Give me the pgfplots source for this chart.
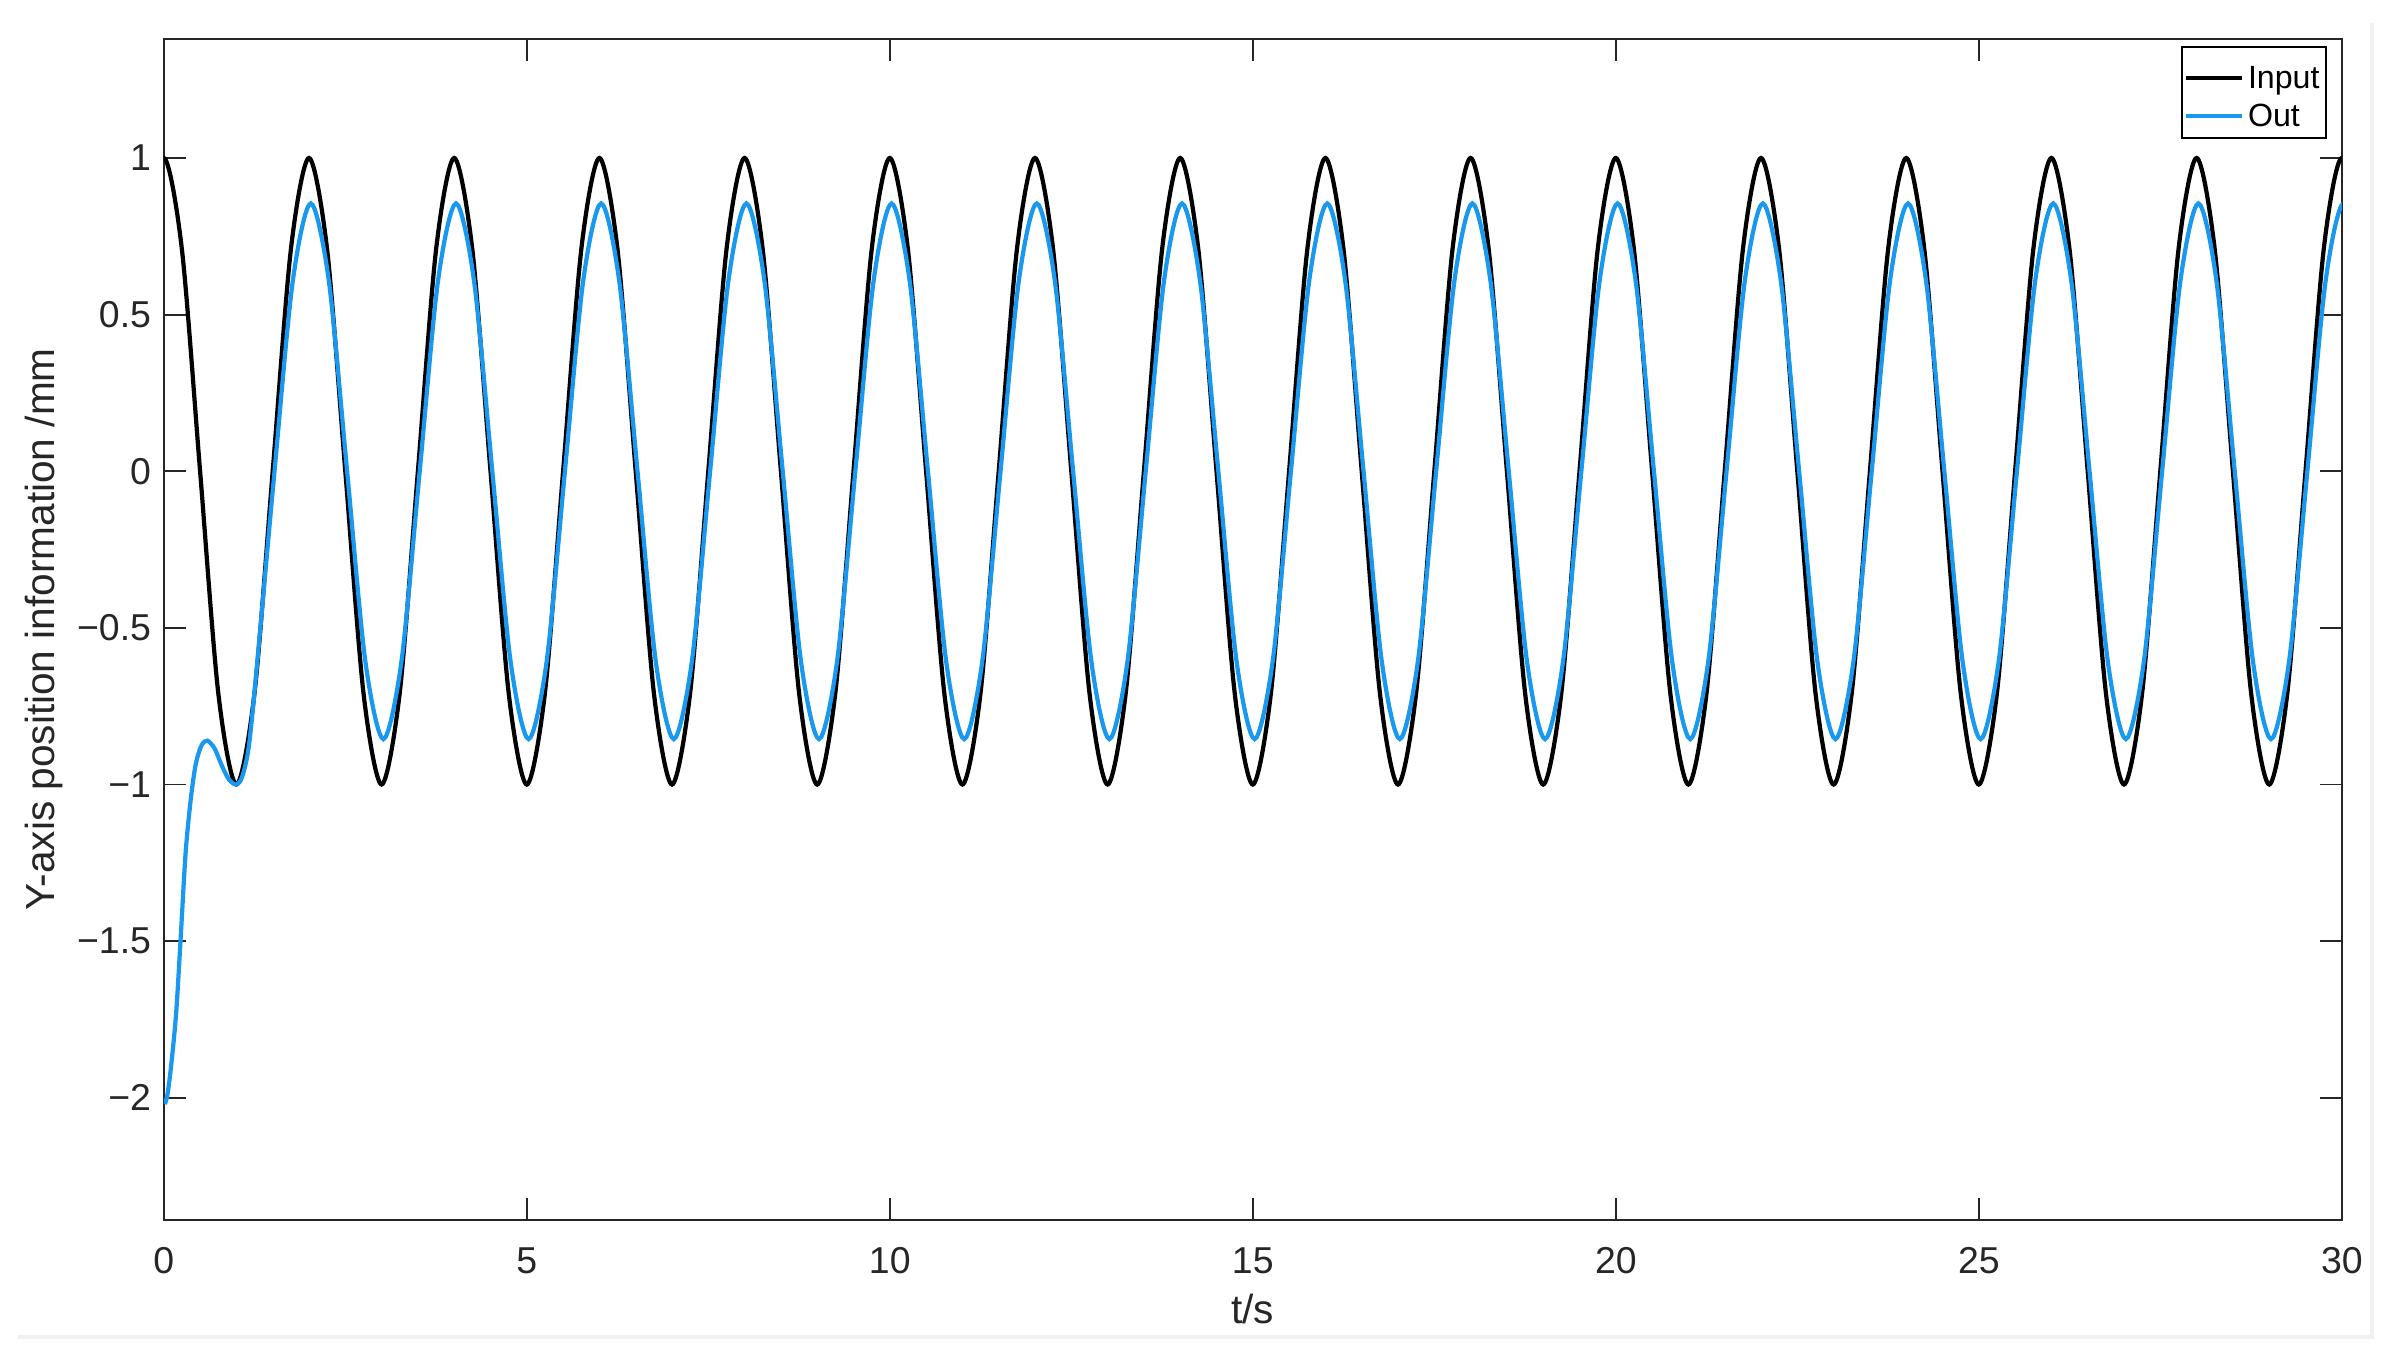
\documentclass[border=0pt]{standalone}
\usepackage{fontspec}
\setmainfont{Liberation Sans}
\usepackage{pgfplots}
\pgfplotsset{compat=1.18}

\definecolor{outblue}{RGB}{25,152,240}
\definecolor{axgray}{RGB}{38,38,38}
\definecolor{framegray}{RGB}{240,240,240}

\begin{document}
\begin{tikzpicture}
\begin{axis}[
    scale only axis,
    width=14.52cm, height=7.873cm,
    xmin=0, xmax=30, ymin=-2.39, ymax=1.38,
    xtick={0,5,...,30},
    ytick={-2,-1.5,-1,-0.5,0,0.5,1},
    yticklabels={−2,−1.5,−1,−0.5,0,0.5,1},
    tick align=inside,
    major tick length=4.2pt,
    axis line style={axgray, line width=0.35pt},
    every tick/.style={axgray, line width=0.35pt},
    tick label style={font=\fontsize{7.1}{8}\selectfont, text=axgray},
    /pgf/number format/assume math mode=true,
    xticklabel style={yshift=-1.7pt},
    yticklabel style={xshift=1.1pt},
    label style={font=\fontsize{7.7}{9}\selectfont, text=axgray},
    xlabel={t/s},
    ylabel={Y-axis position information /mm},
    xlabel style={at={(axis description cs:0.5,-0.0755)}, anchor=center},
    ylabel style={at={(axis description cs:-0.0551,0.5)}, anchor=center},
    legend style={at={(0.9931,0.994)}, anchor=north east, draw=black,
        line width=0.35pt, font=\fontsize{6.1}{7}\selectfont,
        inner xsep=0.4pt, inner ysep=0.8pt, row sep=-1.2pt,
        nodes={inner xsep=0.8pt, inner ysep=1.4pt, text height=5.6pt, text depth=0pt}},
    legend cell align=left,
    legend image code/.code={\draw[#1] (0cm,-0.03cm) -- (0.37cm,-0.03cm);},
]
% Input
\addplot[black, line width=0.8pt, smooth] coordinates {
(-0.25,0.7071)
(0,1) (0.25,0.7071) (0.5,0) (0.75,-0.7071) (1,-1) (1.25,-0.7071) (1.5,0) (1.75,0.7071)
(2,1) (2.25,0.7071) (2.5,0) (2.75,-0.7071) (3,-1) (3.25,-0.7071) (3.5,0) (3.75,0.7071)
(4,1) (4.25,0.7071) (4.5,0) (4.75,-0.7071) (5,-1) (5.25,-0.7071) (5.5,0) (5.75,0.7071)
(6,1) (6.25,0.7071) (6.5,0) (6.75,-0.7071) (7,-1) (7.25,-0.7071) (7.5,0) (7.75,0.7071)
(8,1) (8.25,0.7071) (8.5,0) (8.75,-0.7071) (9,-1) (9.25,-0.7071) (9.5,0) (9.75,0.7071)
(10,1) (10.25,0.7071) (10.5,0) (10.75,-0.7071) (11,-1) (11.25,-0.7071) (11.5,0) (11.75,0.7071)
(12,1) (12.25,0.7071) (12.5,0) (12.75,-0.7071) (13,-1) (13.25,-0.7071) (13.5,0) (13.75,0.7071)
(14,1) (14.25,0.7071) (14.5,0) (14.75,-0.7071) (15,-1) (15.25,-0.7071) (15.5,0) (15.75,0.7071)
(16,1) (16.25,0.7071) (16.5,0) (16.75,-0.7071) (17,-1) (17.25,-0.7071) (17.5,0) (17.75,0.7071)
(18,1) (18.25,0.7071) (18.5,0) (18.75,-0.7071) (19,-1) (19.25,-0.7071) (19.5,0) (19.75,0.7071)
(20,1) (20.25,0.7071) (20.5,0) (20.75,-0.7071) (21,-1) (21.25,-0.7071) (21.5,0) (21.75,0.7071)
(22,1) (22.25,0.7071) (22.5,0) (22.75,-0.7071) (23,-1) (23.25,-0.7071) (23.5,0) (23.75,0.7071)
(24,1) (24.25,0.7071) (24.5,0) (24.75,-0.7071) (25,-1) (25.25,-0.7071) (25.5,0) (25.75,0.7071)
(26,1) (26.25,0.7071) (26.5,0) (26.75,-0.7071) (27,-1) (27.25,-0.7071) (27.5,0) (27.75,0.7071)
(28,1) (28.25,0.7071) (28.5,0) (28.75,-0.7071) (29,-1) (29.25,-0.7071) (29.5,0) (29.75,0.7071)
(30,1) (30.25,0.7071)
};
% Out
\addplot[outblue, line width=0.8pt, smooth] coordinates {
(0.015,-2.02) (0.05,-1.99) (0.10,-1.90) (0.17,-1.73) (0.235,-1.48) (0.30,-1.22)
(0.37,-1.05) (0.44,-0.935) (0.52,-0.875) (0.60,-0.86) (0.70,-0.885) (0.80,-0.94)
(0.90,-0.985) (1.00,-1.0) (1.08,-0.975) (1.17,-0.88) (1.275,-0.64) (1.525,0) (1.775,0.6046)
(2.025,0.855) (2.275,0.6046) (2.525,0) (2.775,-0.6046) (3.025,-0.855) (3.275,-0.6046) (3.525,0) (3.775,0.6046)
(4.025,0.855) (4.275,0.6046) (4.525,0) (4.775,-0.6046) (5.025,-0.855) (5.275,-0.6046) (5.525,0) (5.775,0.6046)
(6.025,0.855) (6.275,0.6046) (6.525,0) (6.775,-0.6046) (7.025,-0.855) (7.275,-0.6046) (7.525,0) (7.775,0.6046)
(8.025,0.855) (8.275,0.6046) (8.525,0) (8.775,-0.6046) (9.025,-0.855) (9.275,-0.6046) (9.525,0) (9.775,0.6046)
(10.025,0.855) (10.275,0.6046) (10.525,0) (10.775,-0.6046) (11.025,-0.855) (11.275,-0.6046) (11.525,0) (11.775,0.6046)
(12.025,0.855) (12.275,0.6046) (12.525,0) (12.775,-0.6046) (13.025,-0.855) (13.275,-0.6046) (13.525,0) (13.775,0.6046)
(14.025,0.855) (14.275,0.6046) (14.525,0) (14.775,-0.6046) (15.025,-0.855) (15.275,-0.6046) (15.525,0) (15.775,0.6046)
(16.025,0.855) (16.275,0.6046) (16.525,0) (16.775,-0.6046) (17.025,-0.855) (17.275,-0.6046) (17.525,0) (17.775,0.6046)
(18.025,0.855) (18.275,0.6046) (18.525,0) (18.775,-0.6046) (19.025,-0.855) (19.275,-0.6046) (19.525,0) (19.775,0.6046)
(20.025,0.855) (20.275,0.6046) (20.525,0) (20.775,-0.6046) (21.025,-0.855) (21.275,-0.6046) (21.525,0) (21.775,0.6046)
(22.025,0.855) (22.275,0.6046) (22.525,0) (22.775,-0.6046) (23.025,-0.855) (23.275,-0.6046) (23.525,0) (23.775,0.6046)
(24.025,0.855) (24.275,0.6046) (24.525,0) (24.775,-0.6046) (25.025,-0.855) (25.275,-0.6046) (25.525,0) (25.775,0.6046)
(26.025,0.855) (26.275,0.6046) (26.525,0) (26.775,-0.6046) (27.025,-0.855) (27.275,-0.6046) (27.525,0) (27.775,0.6046)
(28.025,0.855) (28.275,0.6046) (28.525,0) (28.775,-0.6046) (29.025,-0.855) (29.275,-0.6046) (29.525,0) (29.775,0.6046)
(30.025,0.855) (30.275,0.6046)
};
\legend{Input, Out}
\end{axis}
% page extent and the light frame of the original figure
\path (-1.092,-0.967) rectangle (14.908,8.133);
\draw[framegray, line width=0.8pt] (-0.972,-0.78) -- (14.72,-0.78) -- (14.72,7.98);
\end{tikzpicture}
\end{document}
